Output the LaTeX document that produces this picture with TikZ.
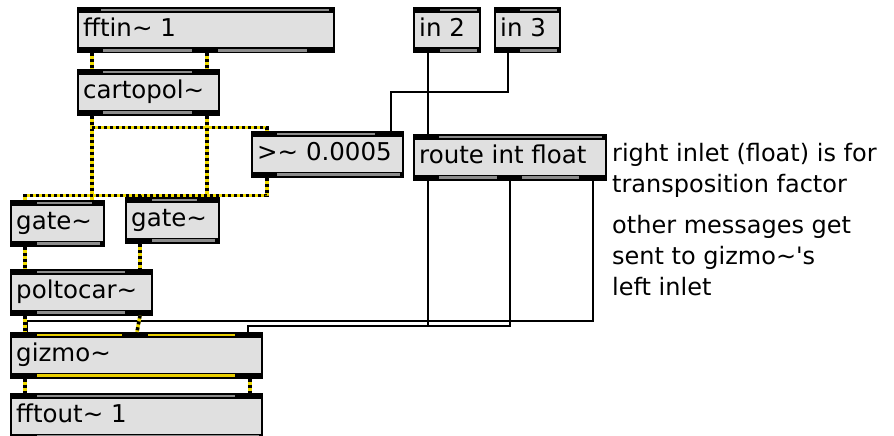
\documentclass[tikz,border=0pt]{standalone}
\usepackage{fontspec}
\newfontfamily\maxfont{DejaVu Sans}
\definecolor{boxGray}{RGB}{224,224,224}
\definecolor{barGray}{RGB}{140,140,140}
\definecolor{sigYellow}{RGB}{240,220,0}
\definecolor{barYellow}{RGB}{232,205,0}

\begin{document}
\begin{tikzpicture}
[x=1pt,y=-1pt,%
  boxDecorate/.style={draw,line width=1.5pt,fill=boxGray,anchor=north west,minimum height=45pt,inner sep=0pt},%
  textDecorate/.style={anchor=base west,xshift=6pt,yshift=-6.5pt,inner sep=0pt,font=\maxfont\fontsize{24.5}{31}\selectfont},%
  commentDecorate/.style={anchor=base west,align=left,inner sep=0pt,font=\maxfont\fontsize{24}{31}\selectfont},%
  signalLine/.style={draw=sigYellow,line width=3.5pt,postaction={draw=black,dash pattern=on 3pt off 3pt}},%
  controlLine/.style={draw=black,line width=2pt}]
\useasboundingbox (0,0) rectangle (894,436);
%% objects
\foreach \nodename/\x/\y/\w/\txt in {fftin/77/7/256/fftin\textasciitilde{} 1,
  cartopol/77/69/141/cartopol\textasciitilde,
  thresh/251/131/151/>\textasciitilde{} 0.0005,
  inTwo/413/7/66/in 2, inThree/494/7/65/in 3,
  route/413/134/192/route int float,
  gateL/10/200/93/gate\textasciitilde, gateR/125/197/93/gate\textasciitilde,
  poltocar/10/269/141/poltocar\textasciitilde,
  gizmo/10/332/251/gizmo\textasciitilde,
  fftout/10/393/251/fftout\textasciitilde{} 1}
{
  \node (\nodename) at (\x,\y) [boxDecorate,minimum width=\w pt,label={[textDecorate]west:\txt}] {};
  \fill (\nodename.north west) rectangle ([yshift=-6pt]\nodename.north east);
  \fill ([yshift=6pt]\nodename.south west) rectangle (\nodename.south east);
}
%% bars between inlets and outlets
\foreach \nodename/\a/\b in {fftin/24/252, cartopol/26/115, thresh/26/124, inTwo/27/64,
  inThree/26/63, route/26/189, gateL/27/82, gateR/27/72, poltocar/27/115, fftout/27/225}
{
  \draw[barGray,line width=2.2pt] ([xshift=\a pt,yshift=-3pt]\nodename.north west) -- ([xshift=\b pt,yshift=-3pt]\nodename.north west);
}
\foreach \nodename/\a/\b in {fftin/26/115, fftin/141/230, cartopol/26/115, thresh/26/149,
  inTwo/27/64, inThree/26/63, route/26/84, route/109/166, gateL/27/90, gateR/27/90,
  poltocar/27/115, fftout/27/249}
{
  \draw[barGray,line width=2.2pt] ([xshift=\a pt,yshift=3pt]\nodename.south west) -- ([xshift=\b pt,yshift=3pt]\nodename.south west);
}
\draw[barYellow,line width=2.2pt] ([xshift=27pt,yshift=-3pt]gizmo.north west) -- ([xshift=112pt,yshift=-3pt]gizmo.north west)
  ([xshift=138pt,yshift=-3pt]gizmo.north west) -- ([xshift=225pt,yshift=-3pt]gizmo.north west)
  ([xshift=27pt,yshift=3pt]gizmo.south west) -- ([xshift=225pt,yshift=3pt]gizmo.south west);
%% control cords
\draw[controlLine] ([xshift=15pt]inTwo.south west) -- ([xshift=15pt]route.north west);
\draw[controlLine] ([xshift=14pt]inThree.south west) -- ++(0,38) -| ([xshift=140pt]thresh.north west);
\draw[controlLine] ([xshift=15pt]route.south west) -- ++(0,145) -| ([xshift=238pt]gizmo.north west);
\draw[controlLine] ([xshift=97pt]route.south west) -- ++(0,145) -| ([xshift=238pt]gizmo.north west);
\draw[controlLine] ([xshift=180pt]route.south west) -- ++(0,140) -| ([xshift=17pt]gizmo.north west);
%% signal cords
\draw[signalLine] ([xshift=15pt]fftin.south west) -- ([xshift=15pt]cartopol.north west);
\draw[signalLine] ([xshift=130pt]fftin.south west) -- ([xshift=130pt]cartopol.north west);
\draw[signalLine] ([xshift=15pt]cartopol.south west) -- ([xshift=82pt]gateL.north west);
\draw[signalLine] ([xshift=15pt]cartopol.south west) -- ++(0,12) -| ([xshift=16pt]thresh.north west);
\draw[signalLine] ([xshift=130pt]cartopol.south west) -- ([xshift=82pt]gateR.north west);
\draw[signalLine] ([xshift=16pt]thresh.south west) -- ++(0,18) -| ([xshift=15pt]gateL.north west);
\draw[signalLine] ([xshift=16pt]thresh.south west) -- ++(0,18) -| ([xshift=15pt]gateR.north west);
\draw[signalLine] ([xshift=15pt]gateL.south west) -- ([xshift=15pt]poltocar.north west);
\draw[signalLine] ([xshift=15pt]gateR.south west) -- ([xshift=130pt]poltocar.north west);
\draw[signalLine] ([xshift=15pt]poltocar.south west) -- ([xshift=15pt]gizmo.north west);
\draw[signalLine] ([xshift=130pt]poltocar.south west) -- ([xshift=127pt]gizmo.north west);
\draw[signalLine] ([xshift=15pt]gizmo.south west) -- ([xshift=15pt]fftout.north west);
\draw[signalLine] ([xshift=240pt]gizmo.south west) -- ([xshift=240pt]fftout.north west);
%% comments
\node (noteFloat) at (612,192) [commentDecorate] {right inlet (float) is for\\transposition factor};
\node (noteLeft) at (612,295) [commentDecorate] {other messages get\\sent to gizmo\textasciitilde's\\left inlet};
\end{tikzpicture}
\end{document}
